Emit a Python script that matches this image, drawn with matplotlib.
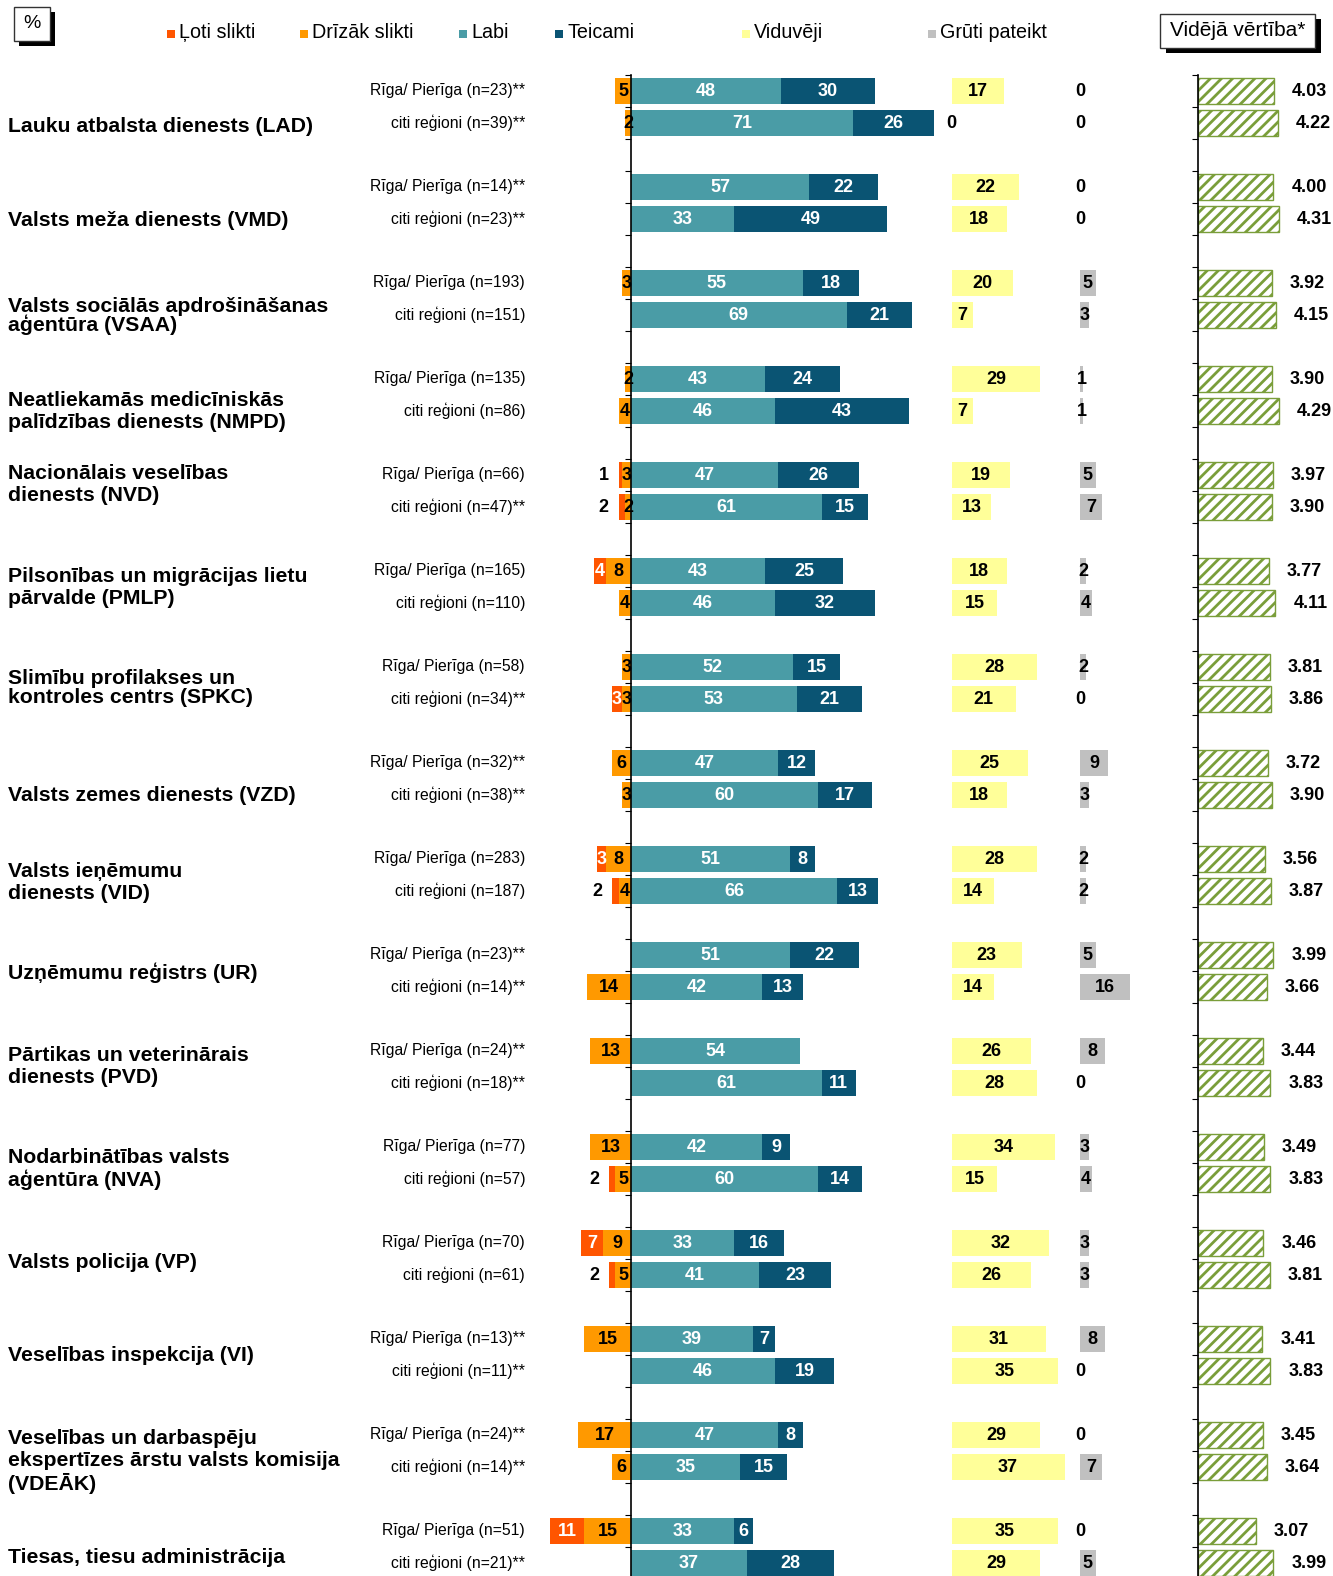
import matplotlib.pyplot as plt
import matplotlib.patches as mpatches
import matplotlib.transforms as mtransforms
from matplotlib import font_manager
import numpy as np

plt.rcParams['font.family'] = ['Liberation Sans', 'DejaVu Sans']
plt.rcParams['hatch.linewidth'] = 2.0

# --- data ---
groups = ["Lauku atbalsta dienests (LAD)",
          "Valsts meža dienests (VMD)",
          "Valsts sociālās apdrošināšanas\naģentūra (VSAA)",
          "Neatliekamās medicīniskās\npalīdzības dienests (NMPD)",
          "Nacionālais veselības\ndienests (NVD)",
          "Pilsonības un migrācijas lietu\npārvalde (PMLP)",
          "Slimību profilakses un\nkontroles centrs (SPKC)",
          "Valsts zemes dienests (VZD)",
          "Valsts ieņēmumu\ndienests (VID)",
          "Uzņēmumu reģistrs (UR)",
          "Pārtikas un veterinārais\ndienests (PVD)",
          "Nodarbinātības valsts\naģentūra (NVA)",
          "Valsts policija (VP)",
          "Veselības inspekcija (VI)",
          "Veselības un darbaspēju\nekspertīzes ārstu valsts komisija\n(VDEĀK)",
          "Tiesas, tiesu administrācija"]

rows = ["Rīga/ Pierīga (n=23)**", "citi reģioni (n=39)**",
        "Rīga/ Pierīga (n=14)**", "citi reģioni (n=23)**",
        "Rīga/ Pierīga (n=193)", "citi reģioni (n=151)",
        "Rīga/ Pierīga (n=135)", "citi reģioni (n=86)",
        "Rīga/ Pierīga (n=66)", "citi reģioni (n=47)**",
        "Rīga/ Pierīga (n=165)", "citi reģioni (n=110)",
        "Rīga/ Pierīga (n=58)", "citi reģioni (n=34)**",
        "Rīga/ Pierīga (n=32)**", "citi reģioni (n=38)**",
        "Rīga/ Pierīga (n=283)", "citi reģioni (n=187)",
        "Rīga/ Pierīga (n=23)**", "citi reģioni (n=14)**",
        "Rīga/ Pierīga (n=24)**", "citi reģioni (n=18)**",
        "Rīga/ Pierīga (n=77)", "citi reģioni (n=57)",
        "Rīga/ Pierīga (n=70)", "citi reģioni (n=61)",
        "Rīga/ Pierīga (n=13)**", "citi reģioni (n=11)**",
        "Rīga/ Pierīga (n=24)**", "citi reģioni (n=14)**",
        "Rīga/ Pierīga (n=51)", "citi reģioni (n=21)**"]

loti_slikti = [0, 0, 0, 0, 0, 0, 0, 0, 1, 2, 4, 0, 0, 3, 0, 0,
               3, 2, 0, 0, 0, 0, 0, 2, 7, 2, 0, 0, 0, 0, 11, 0]
drizak_slikti = [5, 2, 0, 0, 3, 0, 2, 4, 3, 2, 8, 4, 3, 3, 6, 3,
                 8, 4, 0, 14, 13, 0, 13, 5, 9, 5, 15, 0, 17, 6, 15, 0]
labi = [48, 71, 57, 33, 55, 69, 43, 46, 47, 61, 43, 46, 52, 53, 47, 60,
        51, 66, 51, 42, 54, 61, 42, 60, 33, 41, 39, 46, 47, 35, 33, 37]
teicami = [30, 26, 22, 49, 18, 21, 24, 43, 26, 15, 25, 32, 15, 21, 12, 17,
           8, 13, 22, 13, 0, 11, 9, 14, 16, 23, 7, 19, 8, 15, 6, 28]
viduveji = [17, 0, 22, 18, 20, 7, 29, 7, 19, 13, 18, 15, 28, 21, 25, 18,
            28, 14, 23, 14, 26, 28, 34, 15, 32, 26, 31, 35, 29, 37, 35, 29]
gruti = [0, 0, 0, 0, 5, 3, 1, 1, 5, 7, 2, 4, 2, 0, 9, 3,
         2, 2, 5, 16, 8, 0, 3, 4, 3, 3, 8, 0, 0, 7, 0, 5]
videja = [4.03, 4.22, 4.00, 4.31, 3.92, 4.15, 3.90, 4.29, 3.97, 3.90, 3.77, 4.11,
          3.81, 3.86, 3.72, 3.90, 3.56, 3.87, 3.99, 3.66, 3.44, 3.83, 3.49, 3.83,
          3.46, 3.81, 3.41, 3.83, 3.45, 3.64, 3.07, 3.99]

legend_names = ["Ļoti slikti", "Drīzāk slikti", "Labi", "Teicami", "Viduvēji", "Grūti pateikt"]

# --- style / layout ---
c_ls, c_ds, c_l, c_t = '#FF5500', '#FF9900', '#4A9CA6', '#0A5473'
c_v, c_g, c_m = '#FFFF99', '#C0C0C0', '#7A9E3A'
legend_colors = [c_ls, c_ds, c_l, c_t, c_v, c_g]
legend_x = [167, 300, 459, 555, 742, 928]

# group label vertical offset from first row (in slots) and line spacing
label_off = [1.12, 1.06, 1.03, 1.02, 0.30, 0.50, 0.66, 1.03, 0.74, 0.56, 0.47, 0.69, 0.61, 0.53, 0.83, 0.84]
label_ls = [1.2, 1.2, 0.9, 1.2, 1.2, 1.2, 1.0, 1.2, 1.2, 1.2, 1.2, 1.2, 1.2, 1.2, 1.2, 1.2]

W, H = 1333, 1576
fig = plt.figure(figsize=(W / 100, H / 100), dpi=100)

names = {f.name for f in font_manager.fontManager.ttflist}
if 'Liberation Sans Narrow' in names:
    sub_font = dict(family=['Liberation Sans Narrow', 'Liberation Sans'], fontsize=13.2)
else:
    sub_font = dict(family=['Liberation Sans', 'DejaVu Sans'], fontsize=11.35)

y_top, row0, slot_px = 75, 91, 32
ylim = ((H - row0) / slot_px, -0.5)


def px_axes(x0, x1):
    return fig.add_axes([x0 / W, 0, (x1 - x0) / W, 1 - y_top / H])


ypos = np.array([3 * g + r for g in range(len(groups)) for r in range(2)], dtype=float)
bh = 0.81

ls = np.array(loti_slikti)
ds = np.array(drizak_slikti)
lb = np.array(labi)
tc = np.array(teicami)

# main diverging part
zero_px, k_main = 631, 3.124
ax = px_axes(540, 940)
ax.set_xlim(-(zero_px - 540) / k_main, (940 - zero_px) / k_main)
ax.set_ylim(*ylim)
ax.barh(ypos, -ds, height=bh, color=c_ds)
ax.barh(ypos, -ls, left=-ds, height=bh, color=c_ls)
ax.barh(ypos, lb, height=bh, color=c_l)
ax.barh(ypos, tc, left=lb, height=bh, color=c_t)
for s in ['top', 'right', 'bottom']:
    ax.spines[s].set_visible(False)
ax.spines['left'].set_position(('data', 0))
ax.spines['left'].set_linewidth(1.2)
ax.set_xticks([])
ax.set_yticks(np.arange(-0.5, ylim[0], 1))
ax.tick_params(axis='y', direction='out', length=4, labelleft=False)

lab = dict(fontsize=13, fontweight='bold', ha='center', va='center')
for i, y in enumerate(ypos):
    if ds[i] > 0:
        ax.text(-ds[i] / 2, y, str(ds[i]), color='black', **lab)
    if ls[i] > 2:
        ax.text(-ds[i] - ls[i] / 2, y, str(ls[i]), color='white', **lab)
    elif ls[i] > 0:
        ax.text(-ds[i] - ls[i] - 4.8, y, str(ls[i]), color='black', **lab)
    if lb[i] > 0:
        ax.text(lb[i] / 2, y, str(lb[i]), color='white', **lab)
    if tc[i] > 0:
        ax.text(lb[i] + tc[i] / 2, y, str(tc[i]), color='white', **lab)

# row and group labels
tr = mtransforms.blended_transform_factory(fig.transFigure, ax.transData)
for i, y in enumerate(ypos):
    ax.text(525 / W, y, rows[i], transform=tr, ha='right', va='center', **sub_font)
for g, name in enumerate(groups):
    ax.text(8 / W, 3 * g + label_off[g], name, transform=tr, ha='left', va='center',
            fontsize=15.3, fontweight='bold', linespacing=label_ls[g])

# Viduveji
axv = px_axes(951.7, 951.7 + 40 * 3.05)
axv.set_xlim(0, 40)
axv.set_ylim(*ylim)
axv.barh(ypos, viduveji, height=bh, color=c_v)
for i, y in enumerate(ypos):
    axv.text(viduveji[i] / 2, y, str(viduveji[i]), color='black', **lab)
axv.axis('off')

# Gruti pateikt
axg = px_axes(1080, 1080 + 20 * 3.12)
axg.set_xlim(0, 20)
axg.set_ylim(*ylim)
axg.barh(ypos, gruti, height=bh, color=c_g)
for i, y in enumerate(ypos):
    axg.text(gruti[i] / 2, y, str(gruti[i]), color='black', **lab)
axg.axis('off')

# Videja vertiba
k_mean = 18.85
axm = px_axes(1198, 1198 + 7 * k_mean)
axm.set_xlim(0, 7)
axm.set_ylim(*ylim)
axm.barh(ypos, videja, height=bh, facecolor='white', edgecolor=c_m, hatch='///', linewidth=1)
for i, y in enumerate(ypos):
    axm.text(videja[i] + 18 / k_mean, y, f"{videja[i]:.2f}", ha='left', va='center',
             fontsize=13, fontweight='bold')
for s in ['top', 'right', 'bottom']:
    axm.spines[s].set_visible(False)
axm.spines['left'].set_linewidth(1.2)
axm.set_xticks([])
axm.set_yticks(np.arange(-0.5, ylim[0], 1))
axm.tick_params(axis='y', direction='out', length=4, labelleft=False)


# legend and header boxes
def fig_rect(x0, y0, x1, y1, **kw):
    fig.add_artist(mpatches.Rectangle((x0 / W, 1 - y1 / H), (x1 - x0) / W, (y1 - y0) / H,
                                      transform=fig.transFigure, **kw))


for name, col, x in zip(legend_names, legend_colors, legend_x):
    fig_rect(x, 30, x + 8, 38, facecolor=col, edgecolor='none')
    fig.text((x + 12) / W, 1 - 38 / H, name, ha='left', va='baseline', fontsize=14.2)

fig_rect(19, 12, 55, 46, facecolor='black', edgecolor='none')
fig_rect(14, 7, 50, 41, facecolor='white', edgecolor='#333333', linewidth=1)
fig.text(32 / W, 1 - 24 / H, "%", ha='center', va='center', fontsize=14)

fig_rect(1166, 19, 1321, 53, facecolor='black', edgecolor='none')
fig_rect(1160, 14, 1315, 48, facecolor='white', edgecolor='#333333', linewidth=1)
fig.text(1237.5 / W, 1 - 31 / H, "Vidējā vērtība*", ha='center', va='center', fontsize=15)

fig.savefig('out.png', dpi=100)
